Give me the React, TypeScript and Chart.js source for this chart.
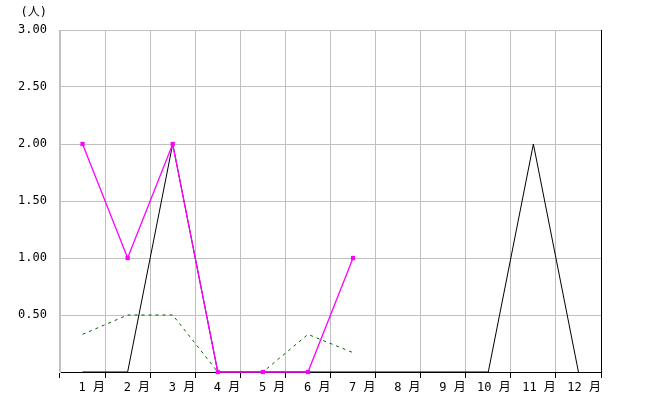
import React, { useEffect, useRef } from "react";
import { Chart, registerables } from "chart.js";

Chart.register(...registerables);

const months = ["1 月", "2 月", "3 月", "4 月", "5 月", "6 月", "7 月", "8 月", "9 月", "10 月", "11 月", "12 月"];
const seriesBlack = [0, 0, 2, 0, 0, 0, 0, 0, 0, 0, 2, 0];
const seriesMagenta = [2, 1, 2, 0, 0, 0, 1, null, null, null, null, null];
const seriesGreen = [0.33, 0.5, 0.5, 0, 0, 0.33, 0.17, null, null, null, null, null];
const yTicks = [0, 0.5, 1, 1.5, 2, 2.5, 3];
const unitLabel = "(人)";

const FONT = "'DejaVu Sans Mono', 'Noto Sans CJK JP', monospace";

export default function App() {
  const ref = useRef<HTMLCanvasElement | null>(null);
  useEffect(() => {
    if (!ref.current) return;
    const extras = {
      id: "extras",
      afterDraw(chart: any) {
        const { ctx, chartArea } = chart;
        ctx.save();
        ctx.strokeStyle = "#000";
        ctx.lineWidth = 1;
        ctx.beginPath();
        ctx.moveTo(Math.round(chartArea.right) + 0.5, chartArea.top);
        ctx.lineTo(Math.round(chartArea.right) + 0.5, chartArea.bottom);
        ctx.stroke();
        ctx.fillStyle = "#000";
        ctx.font = `12px ${FONT}`;
        ctx.textAlign = "right";
        ctx.textBaseline = "middle";
        ctx.fillText(unitLabel, chartArea.left - 13, 13);
        ctx.restore();
      },
    };
    const chart = new Chart(ref.current, {
      type: "line",
      data: {
        labels: months,
        datasets: [
          {
            data: seriesMagenta,
            borderColor: "#FF00FF",
            backgroundColor: "#FF00FF",
            borderWidth: 1.3,
            pointStyle: "rect",
            pointRadius: 3,
            pointBorderWidth: 0,
            spanGaps: false,
            clip: false,
            order: 0,
          },
          {
            data: seriesGreen,
            borderColor: "#006400",
            borderWidth: 1,
            borderDash: [3, 4],
            pointRadius: 0,
            clip: false,
            order: 1,
          },
          {
            data: seriesBlack,
            borderColor: "#000000",
            borderWidth: 1,
            pointRadius: 0,
            clip: false,
            order: 2,
          },
        ],
      },
      options: {
        animation: false,
        responsive: false,
        maintainAspectRatio: false,
        layout: { padding: { top: 30, right: 51, left: 0, bottom: 0 } },
        plugins: { legend: { display: false }, tooltip: { enabled: false } },
        scales: {
          x: {
            type: "category",
            offset: true,
            grid: {
              offset: true,
              color: "#C0C0C0",
              tickColor: "#000",
              tickLength: 6,
            },
            border: { color: "#000", width: 1 },
            ticks: {
              color: "#000",
              font: { family: FONT, size: 12 },
              maxRotation: 0,
              autoSkip: false,
              align: "end",
              labelOffset: 22.5,
              padding: 3,
            },
            afterFit(scale: any) {
              scale.height = 47;
            },
          },
          y: {
            min: 0,
            max: 3,
            afterBuildTicks(scale: any) {
              scale.ticks = yTicks.map((v) => ({ value: v }));
            },
            grid: { color: "#C0C0C0", drawTicks: false },
            border: { color: "#C0C0C0" },
            ticks: {
              color: "#000",
              padding: 13,
              font: { family: FONT, size: 12 },
              callback: (v: any) => (Number(v) === 0 ? "" : Number(v).toFixed(2)),
            },
            afterFit(scale: any) {
              scale.width = 60;
            },
          },
        },
      },
      plugins: [extras],
    });
    return () => chart.destroy();
  }, []);
  return (
    <div style={{ position: "absolute", left: 0, top: 0, width: 652, height: 419, background: "#fff" }}>
      <canvas ref={ref} width={652} height={419} style={{ width: 652, height: 419, display: "block" }} />
    </div>
  );
}
